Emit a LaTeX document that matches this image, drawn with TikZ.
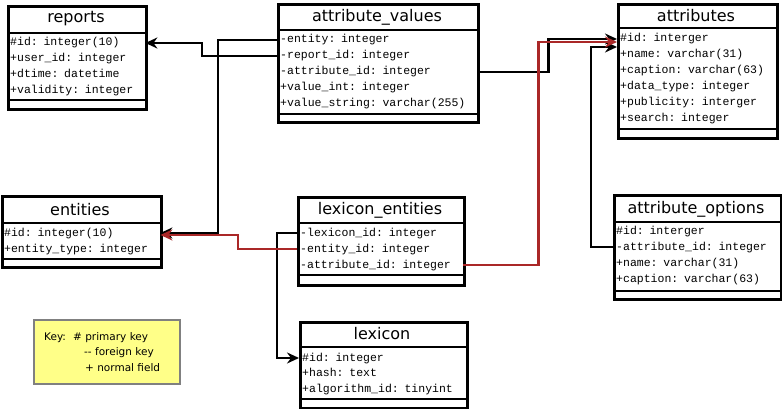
\documentclass[tikz,border=0pt]{standalone}
\usepackage{fontspec}
\setmainfont{DejaVu Sans}
\newfontfamily\monof{Liberation Mono}
\usetikzlibrary{arrows.meta}
\definecolor{fkred}{RGB}{170,40,40}
\definecolor{keyyellow}{RGB}{255,255,136}
\definecolor{keygray}{RGB}{128,128,128}
\begin{document}
\begin{tikzpicture}[x=1pt,y=-1pt,
  box/.style={draw, line width=2.6pt, anchor=north west, inner sep=0pt, fill=white},
  sepline/.style={line width=2.6pt},
  title/.style={font=\fontsize{16}{19}\selectfont, inner sep=0pt},
  field/.style={font=\monof\fontsize{11.5}{14}\selectfont, anchor=west, inner xsep=3pt, inner ysep=0pt, text width=#1, align=left, text height=8pt, text depth=2pt},
  conn/.style={line width=2.2pt, -{Stealth[length=12pt,width=11pt,inset=4pt]}},
  fk/.style={conn, draw=fkred},
  keytext/.style={font=\fontsize{10.5}{13}\selectfont, anchor=west, inner sep=0pt, text height=8pt, text depth=2.5pt}
]
\useasboundingbox (0,0) rectangle (782,409);

% reports
\node[box, minimum width=138pt, minimum height=103pt] (reports) at (7,5) {};
\node[title] (reports-t) at (76,19) {reports};
\draw[sepline] (7,33) -- (145,33);
\draw[sepline] (7,100) -- (145,100);
\node[field=132pt] (rp-id) at (7,43) {\#id: integer(10)};
\node[field=132pt] (rp-user) at (7,59) {+user\_id: integer};
\node[field=132pt] (rp-dtime) at (7,75) {+dtime: datetime};
\node[field=132pt] (rp-valid) at (7,91) {+validity: integer};

% attribute_values
\node[box, minimum width=200pt, minimum height=118pt] (av) at (277,3) {};
\node[title] (av-t) at (377,17) {attribute\_values};
\draw[sepline] (277,30) -- (477,30);
\draw[sepline] (277,114) -- (477,114);
\node[field=194pt] (av-entity) at (277,40) {-entity: integer};
\node[field=194pt] (av-report) at (277,56) {-report\_id: integer};
\node[field=194pt] (av-attrid) at (277,72) {-attribute\_id: integer};
\node[field=194pt] (av-vint) at (277,88) {+value\_int: integer};
\node[field=194pt] (av-vstr) at (277,104) {+value\_string: varchar(255)};

% attributes
\node[box, minimum width=159pt, minimum height=134pt] (attr) at (617,3) {};
\node[title] (attr-t) at (696,16) {attributes};
\draw[sepline] (617,28) -- (776,28);
\draw[sepline] (617,129) -- (776,129);
\node[field=153pt] (at-id) at (617,39) {\#id: interger};
\node[field=153pt] (at-name) at (617,55) {+name: varchar(31)};
\node[field=153pt] (at-cap) at (617,71) {+caption: varchar(63)};
\node[field=153pt] (at-dtype) at (617,87) {+data\_type: integer};
\node[field=153pt] (at-pub) at (617,103) {+publicity: interger};
\node[field=153pt] (at-search) at (617,119) {+search: integer};

% entities
\node[box, minimum width=159pt, minimum height=71pt] (ent) at (1,195) {};
\node[title] (ent-t) at (80,210) {entities};
\draw[sepline] (1,223) -- (160,223);
\draw[sepline] (1,259) -- (160,259);
\node[field=153pt] (en-id) at (1,233) {\#id: integer(10)};
\node[field=153pt] (en-type) at (1,249) {+entity\_type: integer};

% lexicon_entities
\node[box, minimum width=166pt, minimum height=88pt] (lexent) at (297,196) {};
\node[title] (le-t) at (380,210) {lexicon\_entities};
\draw[sepline] (297,223) -- (463,223);
\draw[sepline] (297,275) -- (463,275);
\node[field=160pt] (le-lexid) at (297,233) {-lexicon\_id: integer};
\node[field=160pt] (le-entity) at (297,249) {-entity\_id: integer};
\node[field=160pt] (le-attrid) at (297,265) {-attribute\_id: integer};

% attribute_options
\node[box, minimum width=167pt, minimum height=104pt] (aopt) at (613,194) {};
\node[title] (ao-t) at (696,209) {attribute\_options};
\draw[sepline] (613,222) -- (780,222);
\draw[sepline] (613,291) -- (780,291);
\node[field=161pt] (ao-id) at (613,231) {\#id: interger};
\node[field=161pt] (ao-attrid) at (613,247) {-attribute\_id: integer};
\node[field=161pt] (ao-name) at (613,263) {+name: varchar(31)};
\node[field=161pt] (ao-cap) at (613,279) {+caption: varchar(63)};

% lexicon
\node[box, minimum width=167pt, minimum height=86pt] (lex) at (299,321) {};
\node[title] (lx-t) at (382,334) {lexicon};
\draw[sepline] (299,347) -- (466,347);
\draw[sepline] (299,399) -- (466,399);
\node[field=161pt] (lx-id) at (299,358) {\#id: integer};
\node[field=161pt] (lx-hash) at (299,373) {+hash: text};
\node[field=161pt] (lx-alg) at (299,389) {+algorithm\_id: tinyint};

% key
\node[draw=keygray, fill=keyyellow, line width=1.5pt, anchor=north west, minimum width=146pt, minimum height=64pt, inner sep=0pt] (key) at (33,319) {};
\node[keytext] (key-k) at (44,338) {Key:};
\node[keytext] (key-p) at (73,338) {\# primary key};
\node[keytext] (key-f) at (84,353) {-{}- foreign key};
\node[keytext] (key-n) at (85,369) {+ normal field};

% connectors (black)
\draw[conn] (av-report.west) -- ++(-75,0) |- (rp-id.east);
\draw[conn] (av-entity.west) -- ++(-59,0) |- (en-id.east);
\draw[conn] (av-attrid.east) -- ++(71,0) |- (at-id.west);
\draw[conn] (ao-attrid.west) -- ++(-22,0) |- ([yshift=-8pt]at-id.west);
\draw[conn] (le-lexid.west) -- ++(-20,0) |- (lx-id.west);
% connectors (red)
\draw[fk] (le-attrid.east) -- ++(75,0) |- ([yshift=-3pt]at-id.west);
\draw[fk] (le-entity.west) -- ++(-59,0) |- ([yshift=-2pt]en-id.east);
\end{tikzpicture}
\end{document}
